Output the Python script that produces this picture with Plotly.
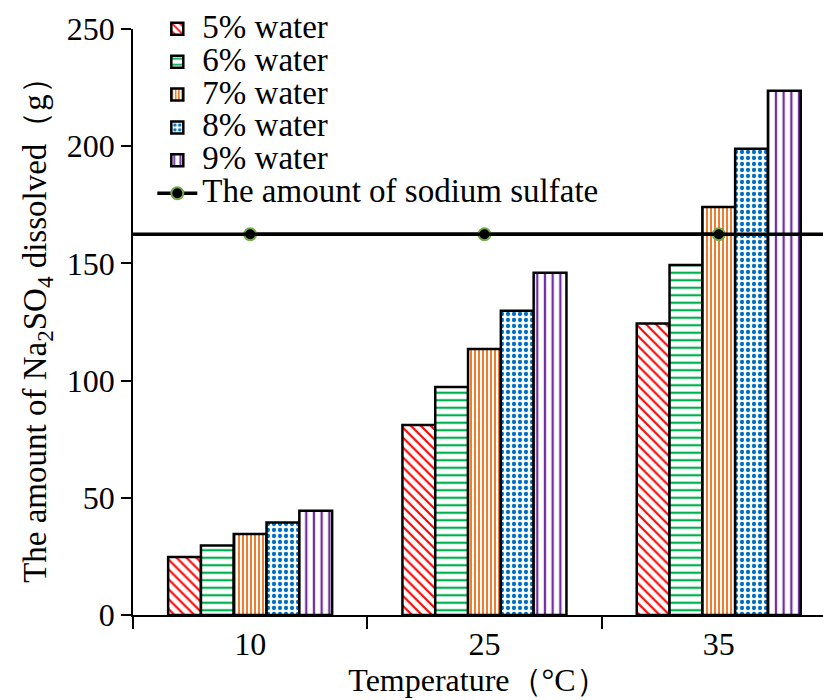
import plotly.graph_objects as go

# Dissolved Na2SO4 (g) at each temperature for each water content
temperatures = ["10", "25", "35"]
water_5 = [24.7, 81.1, 124.4]
water_6 = [29.6, 97.3, 149.3]
water_7 = [34.6, 113.5, 174.1]
water_8 = [39.5, 129.8, 198.9]
water_9 = [44.5, 146.0, 223.7]
sodium_sulfate_total = 162.4

series_names = ["5% water", "6% water", "7% water", "8% water", "9% water"]
series_values = [water_5, water_6, water_7, water_8, water_9]

# hatch style for each series: (pattern shape, colour, spacing, solidity)
hatches = [
    ("\\", "#FF0000", 7, 0.3),
    ("-", "#00B050", 7.5, 0.3),
    ("|", "#ED7D31", 4, 0.5),
    (".", "#0070C0", 6, 0.4),
    ("|", "#7030A0", 7.7, 0.3),
]

FONT = "Liberation Serif"
LEGEND_TEXT = '<span style="font-size:33px">{}</span>'

fig = go.Figure()
for name, vals, (shape, color, size, solidity) in zip(series_names, series_values, hatches):
    fig.add_trace(go.Bar(
        x=temperatures,
        y=vals,
        name=LEGEND_TEXT.format(name),
        marker=dict(
            color="white",
            line=dict(color="black", width=2.5),
            pattern=dict(shape=shape, fgcolor=color, bgcolor="white", fgopacity=1,
                         size=size, solidity=solidity, fillmode="replace"),
        ),
    ))

fig.add_trace(go.Scatter(
    x=temperatures,
    y=[sodium_sulfate_total] * len(temperatures),
    mode="lines+markers",
    name=LEGEND_TEXT.format("The amount of sodium sulfate"),
    line=dict(color="black", width=3.5),
    marker=dict(color="black", size=12, line=dict(color="#70AD47", width=2)),
))

# reference level drawn across the full plot width
fig.add_shape(type="line", xref="paper", x0=0, x1=1,
              yref="y", y0=sodium_sulfate_total, y1=sodium_sulfate_total,
              line=dict(color="black", width=3.5), layer="above")

fig.update_layout(
    width=823, height=700,
    margin=dict(l=133, r=0, t=29, b=85),
    paper_bgcolor="white", plot_bgcolor="white",
    font=dict(family=FONT, color="black", size=32),
    barmode="group", bargap=0.3, bargroupgap=0,
    showlegend=True,
    legend=dict(
        x=0.028, y=1.037, xanchor="left", yanchor="top",
        bgcolor="rgba(0,0,0,0)", borderwidth=0,
        font=dict(family=FONT, size=23, color="black"),
        traceorder="normal", itemwidth=40,
    ),
    xaxis=dict(
        type="category",
        range=[-0.5, 2.445],
        tickson="boundaries",
        ticks="outside", ticklen=12, tickwidth=2, tickcolor="black",
        showline=True, linecolor="black", linewidth=2,
        showgrid=False, zeroline=False,
        tickfont=dict(family=FONT, size=32),
        title=dict(text="Temperature（°C）", font=dict(family=FONT, size=32), standoff=0),
    ),
    yaxis=dict(
        range=[0, 250], tickvals=[0, 50, 100, 150, 200, 250],
        ticks="outside", ticklen=10, tickwidth=1.5, tickcolor="black",
        showline=True, linecolor="black", linewidth=1.5,
        showgrid=False, zeroline=False,
        tickfont=dict(family=FONT, size=32),
        title=dict(text="The amount of Na<sub>2</sub>SO<sub>4</sub> dissolved（g）",
                   font=dict(family=FONT, size=33), standoff=10),
    ),
)

fig.write_html("out.html")
